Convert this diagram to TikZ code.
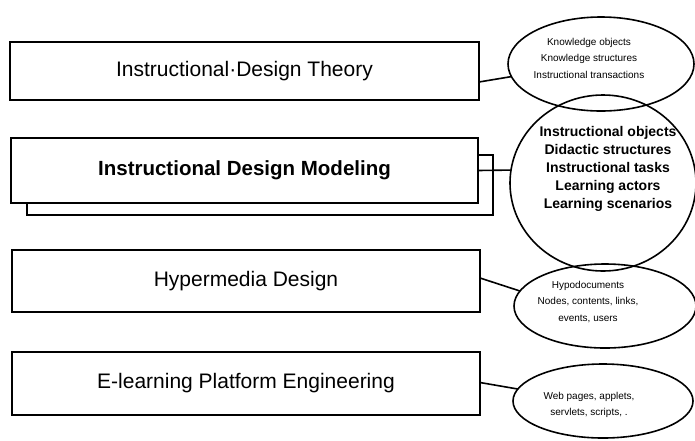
\documentclass[tikz,border=0pt]{standalone}
\usepackage{fontspec}
\setmainfont{Liberation Sans}
\usetikzlibrary{shapes.geometric}
\begin{document}
\begin{tikzpicture}[x=1pt,y=-1pt,
  layer/.style={draw, line width=1.7pt, fill=white, inner sep=0pt, outer sep=0pt},
  oval/.style={draw, line width=1.6pt, ellipse, inner sep=0pt, outer sep=0pt},
  boxtext/.style={font=\fontsize{21}{24}\selectfont},
  ovaltext/.style={align=center, font=\fontsize{10}{16.5}\selectfont},
  link/.style={line width=1.6pt}]
\useasboundingbox (0,0) rectangle (695,440);
% ovals
\node[oval, minimum width=186pt, minimum height=94pt] (e1) at (601,64) {};
\node[oval, minimum width=186pt, minimum height=176pt] (circ) at (603,183) {};
\node[oval, minimum width=182pt, minimum height=84pt] (e3) at (605,306) {};
\node[oval, minimum width=180pt, minimum height=74pt] (e4) at (603,401) {};
% oval texts
\node[ovaltext] (t1) at (589,58) {Knowledge objects\\Knowledge structures\\Instructional transactions};
\node[align=center, font=\bfseries\fontsize{14}{18}\selectfont] (t2) at (608,169) {Instructional objects\\Didactic structures\\Instructional tasks\\Learning actors\\Learning scenarios};
\node[ovaltext] (t3) at (588,302) {Hypodocuments\\Nodes, contents, links,\\events, users};
\node[ovaltext] (t4) at (589,405) {Web pages, applets,\\servlets, scripts, .};
% boxes
\node[layer, minimum width=466pt, minimum height=60pt] (b2s) at (260,185) {};
\node[layer, minimum width=469pt, minimum height=58pt, boxtext] (b1) at (244.5,71) {Instructional·Design Theory};
\node[layer, minimum width=467pt, minimum height=65pt, font=\bfseries\fontsize{20.5}{24}\selectfont] (b2) at (244.5,170.5) {Instructional Design Modeling};
\node[layer, minimum width=468pt, minimum height=62pt, boxtext] (b3) at (246,281) {Hypermedia Design};
\node[layer, minimum width=468pt, minimum height=63pt, boxtext] (b4) at (246,383.5) {E-learning Platform Engineering};
% connectors
\draw[link] ([yshift=-11pt]b1.east) -- (e1.188);
\draw[link] (b2.east) -- (circ.172);
\draw[link] ([yshift=3pt]b3.east) -- (e3.170);
\draw[link] ([yshift=1pt]b4.east) -- (e4.172);
\end{tikzpicture}
\end{document}
